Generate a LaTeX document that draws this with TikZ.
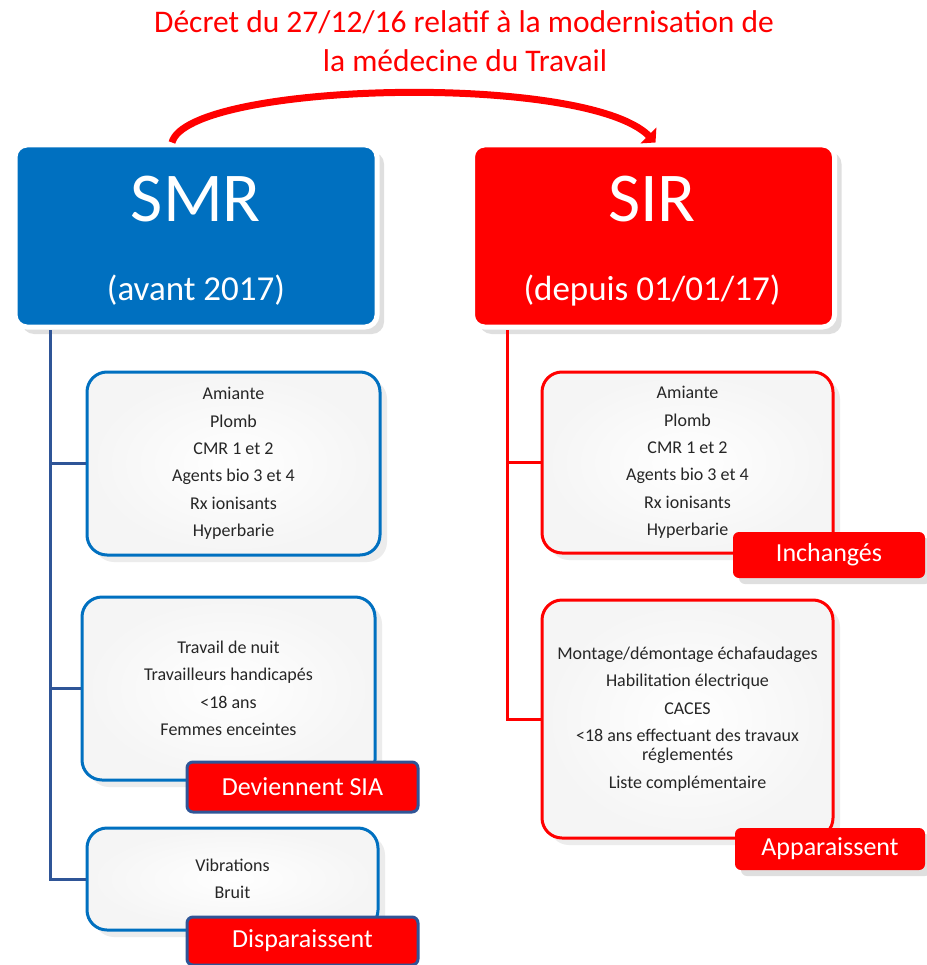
\documentclass[tikz,border=0pt]{standalone}
\usepackage{fontspec}
\setmainfont{Carlito}
\usetikzlibrary{arrows.meta,shadows}
\definecolor{smrblue}{RGB}{0,112,192}
\definecolor{trunkblue}{RGB}{47,85,151}
\definecolor{sirred}{RGB}{255,0,0}
\definecolor{itemtext}{RGB}{38,38,38}
\tikzstyle{headbox}=[rectangle,rounded corners=12pt,draw=white,line width=5pt,minimum width=362pt,minimum height=182pt,drop shadow={shadow xshift=7pt,shadow yshift=-7pt,opacity=0.25}]
\tikzstyle{headtitle}=[anchor=base,inner sep=0pt,text=white,font=\fontsize{70}{84}\selectfont]
\tikzstyle{headsub}=[anchor=base,inner sep=0pt,text=white,font=\fontsize{35}{42}\selectfont]
\tikzstyle{itembox}=[rectangle,rounded corners=20pt,line width=3pt,inner color=white,outer color=gray!8,text=itemtext,align=center,font=\fontsize{18}{27.4}\selectfont,minimum width=291pt,drop shadow={shadow xshift=7pt,shadow yshift=-7pt,opacity=0.15}]
\tikzstyle{tagbox}=[rectangle,rounded corners=6pt,fill=sirred,text=white,inner sep=0pt,font=\fontsize{26}{31}\selectfont]
\tikzstyle{decret}=[anchor=base,inner sep=0pt,text=sirred,font=\fontsize{31.5}{39}\selectfont]

\begin{document}
\begin{tikzpicture}[x=1pt,y=-1pt]
    \useasboundingbox (0,0) rectangle (926,965);
    \fill[white] (0,0) rectangle (926,965);

    \node[decret] (t1) at (464,33) {Décret du 27/12/16 relatif à la modernisation de};
    \node[decret] (t2) at (465,72) {la médecine du Travail};

    \node[headbox,fill=smrblue] (smr) at (196,236) {};
    \node[headbox,fill=sirred] (sir) at (653.5,236) {};
    \node[headtitle] (smrt) at (196,222) {SMR};
    \node[headsub] (smrs) at (196,300) {(avant 2017)};
    \node[headtitle] (sirt) at (652,222) {SIR};
    \node[headsub] (sirs) at (652,300) {(depuis 01/01/17)};

    \draw[sirred,line width=7pt,-{Triangle[width=22pt,length=10pt]}] ([xshift=-24pt]smr.north) .. controls (188,82) and (585,72) .. ([xshift=2pt]sir.north);

    \node[itembox,draw=smrblue,minimum width=293pt,minimum height=183pt] (la) at (233.5,463.5) {Amiante\\Plomb\\CMR 1 et 2\\Agents bio 3 et 4\\Rx ionisants\\Hyperbarie};
    \node[itembox,draw=smrblue,minimum width=293pt,minimum height=183pt] (lb) at (228.5,688.5) {Travail de nuit\\Travailleurs handicapés\\<18 ans\\Femmes enceintes};
    \node[itembox,draw=smrblue,minimum height=102pt] (lc) at (232.5,879) {Vibrations\\Bruit};
    \node[itembox,draw=sirred,minimum height=181pt] (ra) at (687.5,462.5) {Amiante\\Plomb\\CMR 1 et 2\\Agents bio 3 et 4\\Rx ionisants\\Hyperbarie};
    \node[itembox,draw=sirred,minimum height=238pt] (rb) at (687.5,719) {Montage/démontage échafaudages\\Habilitation électrique\\CACES\\<18 ans effectuant des travaux\\[-8.4pt]réglementés\\Liste complémentaire};

    \coordinate (lt) at (50,330);
    \coordinate (rt) at (507,330);
    \foreach \n in {la,lb,lc}
    \draw[trunkblue,line width=3pt] (lt) |- (\n.west);
    \foreach \n in {ra,rb}
    \draw[sirred,line width=3pt] (rt) |- (\n.west);

    \node[tagbox,draw=trunkblue,line width=3pt,minimum width=231pt,minimum height=50pt] (sia) at (302.5,787) {Deviennent SIA};
    \node[tagbox,draw=trunkblue,line width=3pt,minimum width=231pt,minimum height=48pt] (disp) at (302.5,941) {Disparaissent};
    \node[tagbox,minimum width=192pt,minimum height=46pt,drop shadow={shadow xshift=6pt,shadow yshift=-6pt,opacity=0.25}] (inch) at (829,555) {Inchangés};
    \node[tagbox,minimum width=190pt,minimum height=42pt,drop shadow={shadow xshift=6pt,shadow yshift=-6pt,opacity=0.25}] (appa) at (830,849) {Apparaissent};
\end{tikzpicture}
\end{document}
